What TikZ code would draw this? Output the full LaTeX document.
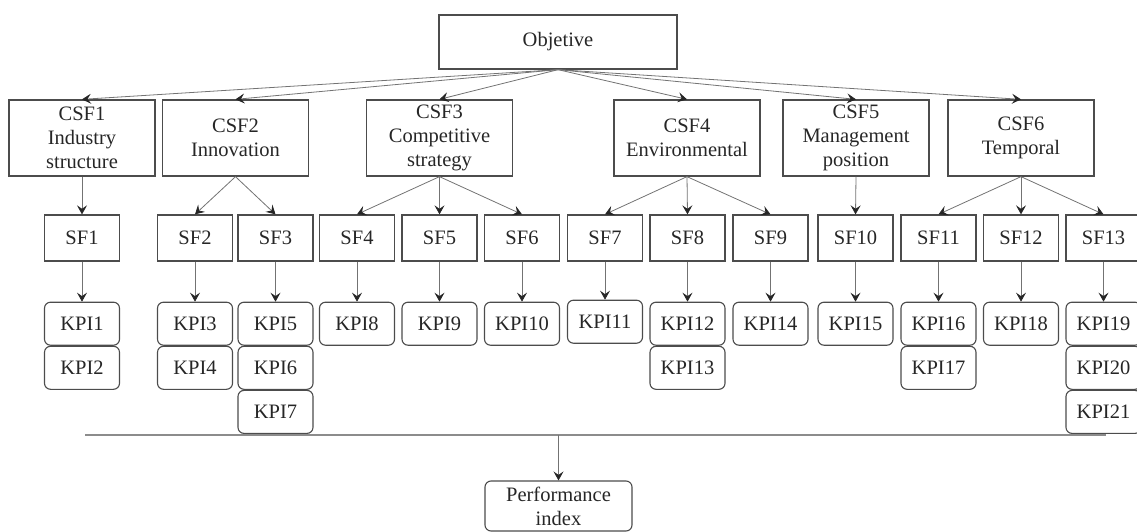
\documentclass[tikz,border=0pt]{standalone}
\usepackage{fontspec}
\setmainfont{Liberation Serif}
\usetikzlibrary{positioning,arrows.meta}
\tikzstyle{objetivo} = [draw=black!70, line width=1.3pt, minimum width=238pt, minimum height=54pt, inner sep=0pt, text=black!85, font=\fontsize{20.5}{24}\selectfont]
\tikzstyle{csf} = [draw=black!70, line width=1.3pt, minimum width=146pt, minimum height=76pt, inner sep=0pt, align=center, text=black!85, font=\fontsize{20.5}{24}\selectfont]
\tikzstyle{sf} = [draw=black!70, line width=1.3pt, minimum width=75pt, minimum height=46pt, inner sep=0pt, text=black!85, font=\fontsize{20.5}{24}\selectfont]
\tikzstyle{kpi} = [draw=black!70, line width=1.1pt, rounded corners=6pt, minimum width=75pt, minimum height=43pt, inner sep=0pt, align=center, text=black!85, font=\fontsize{20.5}{24}\selectfont]
\tikzstyle{flecha} = [draw=black!55, line width=0.8pt, -{Stealth[length=9pt,width=10pt,inset=3.5pt,color=black!85]}]
\tikzstyle{barra} = [draw=black!45, line width=2pt]

\begin{document}
\begin{tikzpicture}[x=1pt,y=-1pt]
	\useasboundingbox (0,0) rectangle (1137,532);
	\clip (0,0) rectangle (1137,532);
	\node[objetivo] (obj) at (558,42) {Objetive};
	\node[csf] (csf1) at (82,138) {CSF1\\Industry\\structure};
	\node[csf] (csf2) at (235.5,138) {CSF2\\Innovation};
	\node[csf] (csf3) at (439.5,138) {CSF3\\Competitive\\strategy};
	\node[csf] (csf4) at (687,138) {CSF4\\Environmental};
	\node[csf] (csf5) at (856,138) {CSF5\\Management\\position};
	\node[csf] (csf6) at (1021,138) {CSF6\\Temporal};
	\node[sf] (sf1) at (82,238) {SF1};
	\node[sf] (sf2) at (195,238) {SF2};
	\node[sf] (sf3) at (275.5,238) {SF3};
	\node[sf] (sf4) at (357,238) {SF4};
	\node[sf] (sf5) at (439.5,238) {SF5};
	\node[sf] (sf6) at (522,238) {SF6};
	\node[sf] (sf7) at (605,238) {SF7};
	\node[sf] (sf8) at (687.5,238) {SF8};
	\node[sf] (sf9) at (770.5,238) {SF9};
	\node[sf] (sf10) at (855.5,238) {SF10};
	\node[sf] (sf11) at (938.5,238) {SF11};
	\node[sf] (sf12) at (1021,238) {SF12};
	\node[sf] (sf13) at (1103.5,238) {SF13};
	\node[kpi, below=40pt of sf1] (kpi1) {KPI1};
	\node[kpi, below=0pt of kpi1] (kpi2) {KPI2};
	\node[kpi, below=40pt of sf2] (kpi3) {KPI3};
	\node[kpi, below=0pt of kpi3] (kpi4) {KPI4};
	\node[kpi, below=40pt of sf3] (kpi5) {KPI5};
	\node[kpi, below=0pt of kpi5] (kpi6) {KPI6};
	\node[kpi, below=0pt of kpi6] (kpi7) {KPI7};
	\node[kpi, below=40pt of sf4] (kpi8) {KPI8};
	\node[kpi, below=40pt of sf5] (kpi9) {KPI9};
	\node[kpi, below=40pt of sf6] (kpi10) {KPI10};
	\node[kpi, below=38pt of sf7] (kpi11) {KPI11};
	\node[kpi, below=40pt of sf8] (kpi12) {KPI12};
	\node[kpi, below=0pt of kpi12] (kpi13) {KPI13};
	\node[kpi, below=40pt of sf9] (kpi14) {KPI14};
	\node[kpi, below=40pt of sf10] (kpi15) {KPI15};
	\node[kpi, below=40pt of sf11] (kpi16) {KPI16};
	\node[kpi, below=0pt of kpi16] (kpi17) {KPI17};
	\node[kpi, below=40pt of sf12] (kpi18) {KPI18};
	\node[kpi, below=40pt of sf13] (kpi19) {KPI19};
	\node[kpi, below=0pt of kpi19] (kpi20) {KPI20};
	\node[kpi, below=0pt of kpi20] (kpi21) {KPI21};
	\node[kpi, minimum width=147pt, minimum height=50pt] (perf) at (558.5,506) {Performance\\index};
	\coordinate (barizq) at (85,435);
	\coordinate (barder) at (1106,435);
	\coordinate (barmed) at (558.5,435);
	\draw[flecha] (obj.south) -- (csf1.north);
	\draw[flecha] (obj.south) -- (csf2.north);
	\draw[flecha] (obj.south) -- (csf3.north);
	\draw[flecha] (obj.south) -- (csf4.north);
	\draw[flecha] (obj.south) -- (csf5.north);
	\draw[flecha] (obj.south) -- (csf6.north);
	\draw[flecha] (csf1.south) -- (sf1.north);
	\draw[flecha] (csf2.south) -- (sf2.north);
	\draw[flecha] (csf2.south) -- (sf3.north);
	\draw[flecha] (csf3.south) -- (sf4.north);
	\draw[flecha] (csf3.south) -- (sf5.north);
	\draw[flecha] (csf3.south) -- (sf6.north);
	\draw[flecha] (csf4.south) -- (sf7.north);
	\draw[flecha] (csf4.south) -- (sf8.north);
	\draw[flecha] (csf4.south) -- (sf9.north);
	\draw[flecha] (csf5.south) -- (sf10.north);
	\draw[flecha] (csf6.south) -- (sf11.north);
	\draw[flecha] (csf6.south) -- (sf12.north);
	\draw[flecha] (csf6.south) -- (sf13.north);
	\draw[flecha] (sf1) -- (kpi1);
	\draw[flecha] (sf2) -- (kpi3);
	\draw[flecha] (sf3) -- (kpi5);
	\draw[flecha] (sf4) -- (kpi8);
	\draw[flecha] (sf5) -- (kpi9);
	\draw[flecha] (sf6) -- (kpi10);
	\draw[flecha] (sf7) -- (kpi11);
	\draw[flecha] (sf8) -- (kpi12);
	\draw[flecha] (sf9) -- (kpi14);
	\draw[flecha] (sf10) -- (kpi15);
	\draw[flecha] (sf11) -- (kpi16);
	\draw[flecha] (sf12) -- (kpi18);
	\draw[flecha] (sf13) -- (kpi19);
	\draw[barra] (barizq) -- (barder);
	\draw[flecha] (barmed) -- (perf.north);
\end{tikzpicture}
\end{document}
